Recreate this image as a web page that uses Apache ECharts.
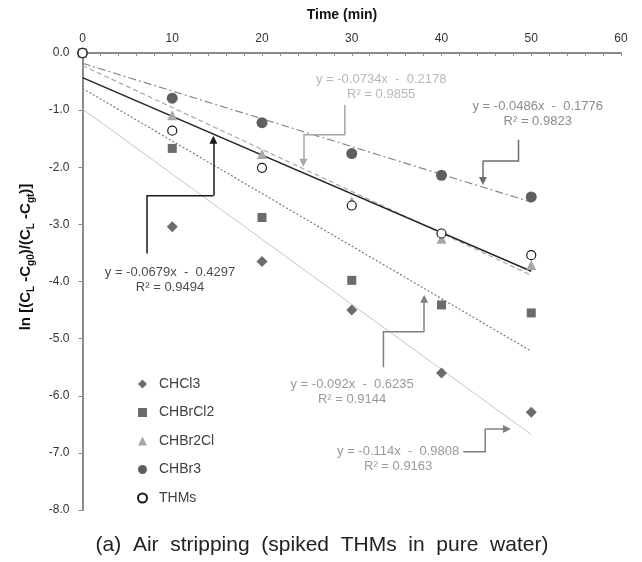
<!DOCTYPE html>
<html>
<head>
<meta charset="utf-8">
<script src="https://cdn.jsdelivr.net/npm/echarts@6/dist/echarts.min.js"></script>
<style>
  html, body { margin: 0; padding: 0; background: #fff; }
  #chart { width: 642px; height: 562px; }
</style>
</head>
<body>
<div id="chart"></div>
<script>
// measured points, time (min) vs ln[(CL-Cg0)/(CL-Cgt)]
const times = [0, 10, 20, 30, 40, 50];
const chcl3 = [0, -3.04, -3.65, -4.50, -5.60, -6.29];
const chbrcl2 = [0, -1.67, -2.88, -3.98, -4.41, -4.55];
const chbr2cl = [0, -1.09, -1.77, -2.60, -3.25, -3.71];
const chbr3 = [0, -0.79, -1.22, -1.76, -2.14, -2.52];
const thms = [0, -1.36, -2.01, -2.67, -3.16, -3.54];

// trend lines, value at t=0 and t=50
const trendX = [0, 50];
const trendCHCl3 = [-0.98, -6.68];
const trendCHBrCl2 = [-0.62, -5.22];
const trendCHBr2Cl = [-0.22, -3.89];
const trendCHBr3 = [-0.18, -2.61];
const trendTHMs = [-0.43, -3.82];

const xTicks = [0, 60, 10];
const yTicks = [-8, 0, 1];

// trend equation labels (data coords)
const annoText = [
  'y = -0.0679x  -  0.4297\nR² = 0.9494',
  'y = -0.0734x  -  0.2178\nR² = 0.9855',
  'y = -0.0486x  -  0.1776\nR² = 0.9823',
  'y = -0.092x  -  0.6235\nR² = 0.9144',
  'y = -0.114x  -  0.9808\nR² = 0.9163'
];
const annoPos = [[9.75, -3.97], [33.28, -0.60], [50.72, -1.07], [30.04, -5.94], [35.17, -7.11]];
const annoColor = ['#1a1a1a', '#a6a6a6', '#6e6e6e', '#7f7f7f', '#7f7f7f'];
// elbow connectors, last segment carries the arrow
const annoPath = [
  [[7.19, -3.51], [7.19, -2.50], [14.58, -2.50], [14.58, -1.52]],
  [[29.23, -0.91], [29.23, -1.43], [24.62, -1.43], [24.62, -1.92]],
  [[48.58, -1.52], [48.58, -1.89], [44.62, -1.89], [44.62, -2.24]],
  [[33.53, -5.50], [33.53, -4.88], [38.07, -4.88], [38.07, -4.30]],
  [[42.42, -6.98], [44.87, -6.98], [44.87, -6.58], [47.29, -6.58]]
];

const FONT = '"Liberation Sans", Arial, sans-serif';

const chart = echarts.init(document.getElementById('chart'), null, { renderer: 'canvas' });

function pts(ys) { return times.map((t, i) => [t, ys[i]]); }
function trend(ys) { return trendX.map((t, i) => [t, ys[i]]); }

function trendSeries(ys, color, type, width) {
  return {
    type: 'line', data: trend(ys), symbol: 'none', silent: true, z: 1,
    lineStyle: { color: color, type: type, width: width }
  };
}

const elbowData = annoPath.map((p, i) => ({
  coords: p.slice(0, 3), lineStyle: { color: annoColor[i] }
}));
const arrowData = annoPath.map((p, i) => ({
  coords: p.slice(2, 4), lineStyle: { color: annoColor[i] }
}));

const option = {
  animation: false,
  backgroundColor: '#fff',
  textStyle: { fontFamily: FONT },
  grid: { left: 82.5, right: 21, top: 53, bottom: 52, containLabel: false, outerBoundsMode: 'none' },
  xAxis: {
    type: 'value', position: 'top', min: xTicks[0], max: xTicks[1], interval: xTicks[2],
    axisLine: { onZero: false, lineStyle: { color: '#8a8a8a', width: 2 } },
    axisTick: { inside: true, length: 3, lineStyle: { color: '#8a8a8a' } },
    minorTick: { show: true, splitNumber: 5, length: 3, lineStyle: { color: '#8a8a8a' } },
    axisLabel: { color: '#333', fontSize: 12, margin: 8, fontFamily: FONT },
    splitLine: { show: false }
  },
  yAxis: {
    type: 'value', min: yTicks[0], max: yTicks[1], interval: yTicks[2],
    axisLine: { show: true, onZero: false, lineStyle: { color: '#8a8a8a', width: 2 } },
    axisTick: { show: true, length: 4, lineStyle: { color: '#8a8a8a' } },
    axisLabel: { color: '#333', fontSize: 12, margin: 13, fontFamily: FONT,
      formatter: v => v.toFixed(1) },
    splitLine: { show: false }
  },
  legend: {
    orient: 'vertical', left: 132, top: 371,
    itemWidth: 9, itemHeight: 9, itemGap: 12.5,
    data: ['CHCl3', 'CHBrCl2', 'CHBr2Cl', 'CHBr3', 'THMs'],
    textStyle: { color: '#404040', fontSize: 14, lineHeight: 16, fontFamily: FONT, padding: [0, 0, 0, 7] }
  },
  series: [
    trendSeries(trendCHCl3, '#c6c6c6', 'solid', 1),
    trendSeries(trendCHBrCl2, '#7a7a7a', [2, 2], 1.2),
    trendSeries(trendCHBr2Cl, '#a8a8a8', [5, 3], 1.2),
    trendSeries(trendCHBr3, '#8a8a8a', [8, 3, 2, 3], 1.2),
    trendSeries(trendTHMs, '#262626', 'solid', 1.5),
    { name: 'CHCl3', type: 'scatter', data: pts(chcl3), symbol: 'diamond', symbolSize: 11, z: 3,
      itemStyle: { color: '#6b6b6b', opacity: 1 } },
    { name: 'CHBrCl2', type: 'scatter', data: pts(chbrcl2), symbol: 'rect', symbolSize: 9, z: 3,
      itemStyle: { color: '#6b6b6b', opacity: 1 } },
    { name: 'CHBr2Cl', type: 'scatter', data: pts(chbr2cl), symbol: 'triangle', symbolSize: 10, z: 3,
      itemStyle: { color: '#a6a6a6', opacity: 1 } },
    { name: 'CHBr3', type: 'scatter', data: pts(chbr3), symbol: 'circle', symbolSize: 11, z: 3,
      itemStyle: { color: '#5f5f5f', opacity: 1 } },
    { name: 'THMs', type: 'scatter', data: pts(thms), symbol: 'circle', symbolSize: 9, z: 4,
      itemStyle: { color: '#fff', borderColor: '#1a1a1a', borderWidth: 1.2, opacity: 1 } },
    { type: 'lines', coordinateSystem: 'cartesian2d', polyline: true, silent: true, z: 5,
      data: elbowData, lineStyle: { width: 1.5, opacity: 1 } },
    { type: 'lines', coordinateSystem: 'cartesian2d', silent: true, z: 5,
      symbol: ['none', 'triangle'], symbolSize: [0, 8],
      data: arrowData, lineStyle: { width: 1.5, opacity: 1 } },
    { type: 'scatter', silent: true, z: 6, symbolSize: 0,
      itemStyle: { color: 'transparent' },
      data: annoPos.map((p, i) => ({
        value: p,
        label: { show: true, position: 'inside', formatter: annoText[i], color: annoColor[i],
          fontSize: 13, lineHeight: 15, align: 'center', fontFamily: FONT }
      }))
    }
  ],
  graphic: [
    { type: 'text', x: 342, y: 15, silent: true,
      style: { text: 'Time (min)', font: 'bold 14px ' + FONT, fill: '#111', align: 'center', verticalAlign: 'middle' } },
    { type: 'text', x: 28, y: 257, rotation: Math.PI / 2, silent: true,
      style: {
        text: '{b|ln [(C}{s|L}{b| -C}{s|g0}{b|)/(C}{s|L}{b| -C}{s|gt}{b|)]}',
        align: 'center', verticalAlign: 'middle',
        rich: {
          b: { fontSize: 15, fontWeight: 'bold', fill: '#111', lineHeight: 20, fontFamily: FONT, verticalAlign: 'top', padding: [0, 0, 0, 0] },
          s: { fontSize: 10, fontWeight: 'bold', fill: '#111', lineHeight: 11, fontFamily: FONT, verticalAlign: 'top', padding: [8, 0, 0, 0] }
        }
      } },
    { type: 'text', x: 322, y: 545, silent: true,
      style: { text: '(a)  Air  stripping  (spiked  THMs  in  pure  water)', font: '21px ' + FONT, fill: '#222', align: 'center', verticalAlign: 'middle' } }
  ]
};

chart.setOption(option);
</script>
</body>
</html>
